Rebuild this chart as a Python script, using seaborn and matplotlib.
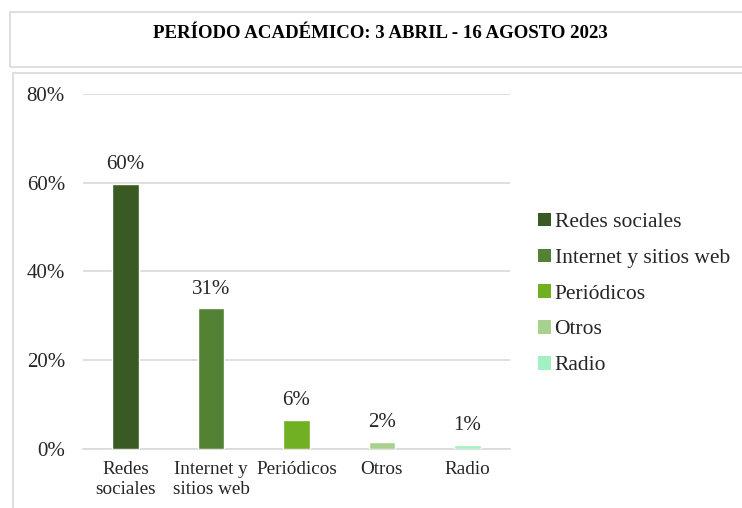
"""
Gráfico de barras: medios de información, período académico abril - agosto 2023.
"""

import matplotlib
matplotlib.use("Agg")
import matplotlib.pyplot as plt
from matplotlib.patches import Rectangle, Patch
import seaborn as sns
import pandas as pd

# Datos
categorias = ["Redes sociales", "Internet y sitios web", "Periódicos", "Otros", "Radio"]
etiquetas_x = ["Redes\nsociales", "Internet y\nsitios web", "Periódicos", "Otros", "Radio"]
porcentajes = [59.8, 31.6, 6.4, 1.5, 0.85]
etiquetas_valor = ["60%", "31%", "6%", "2%", "1%"]
colores = ["#3a5a23", "#548235", "#70b022", "#a9d18e", "#a3f0c2"]
titulo = "PERÍODO ACADÉMICO: 3 ABRIL - 16 AGOSTO 2023"

sns.set_style("white")
plt.rcParams["font.family"] = ["Liberation Serif", "DejaVu Serif"]

W, H = 742, 508
fig = plt.figure(figsize=(W / 100, H / 100), dpi=100)

# cajas de fondo (título y gráfico)
gris = "#d9d9d9"
fig.patches.append(Rectangle((10 / W, 1 - 67 / H), 1.0, 55 / H, transform=fig.transFigure,
                             fill=False, edgecolor=gris, linewidth=1.2))
fig.patches.append(Rectangle((13 / W, -0.1), 1.0, 1 - 73 / H + 0.1, transform=fig.transFigure,
                             fill=False, edgecolor=gris, linewidth=1.2))
fig.text(380 / W, 1 - 34 / H, titulo, ha="center", va="center",
         fontsize=13.6, fontweight="bold", color="black")

ax = fig.add_axes([83 / W, 1 - 448.5 / H, (510 - 83) / W, (448.5 - 94) / H])

df = pd.DataFrame({"Medio": categorias, "Porcentaje": porcentajes})
sns.barplot(data=df, x="Medio", y="Porcentaje", hue="Medio", palette=colores,
            saturation=1, width=0.31, dodge=False, legend=False, ax=ax, zorder=3)

# etiquetas de valor
for cont, texto in zip(ax.containers, etiquetas_valor):
    ax.bar_label(cont, labels=[texto], padding=7, fontsize=15, color="#262626")

ax.set_ylim(0, 80)
ax.set_yticks([0, 20, 40, 60, 80])
ax.set_yticklabels([f"{v}%" for v in [0, 20, 40, 60, 80]], fontsize=15, color="#262626")
ax.set_xticks(range(len(categorias)))
ax.set_xticklabels(etiquetas_x, fontsize=13.8, color="#262626")
ax.set_xlim(-0.5, len(categorias) - 0.5)
ax.tick_params(axis="both", length=0)
ax.tick_params(axis="y", pad=13)
ax.tick_params(axis="x", pad=9)
ax.set_xlabel("")
ax.set_ylabel("")

ax.yaxis.grid(True, color=gris, linewidth=1.2, zorder=0)
ax.set_axisbelow(True)
for lado in ["left", "right", "top"]:
    ax.spines[lado].set_visible(False)
ax.spines["bottom"].set_color(gris)
ax.spines["bottom"].set_linewidth(1.2)

# leyenda
manejadores = [Patch(facecolor=c, edgecolor="none", label=n) for c, n in zip(colores, categorias)]
fig.legend(handles=manejadores, loc="center left", bbox_to_anchor=(519 / W, 1 - 294 / H),
           frameon=False, fontsize=15.5, handlelength=0.6, handleheight=0.6,
           handletextpad=0.15, labelspacing=0.76, labelcolor="#262626")

fig.savefig("out.png", dpi=100)
